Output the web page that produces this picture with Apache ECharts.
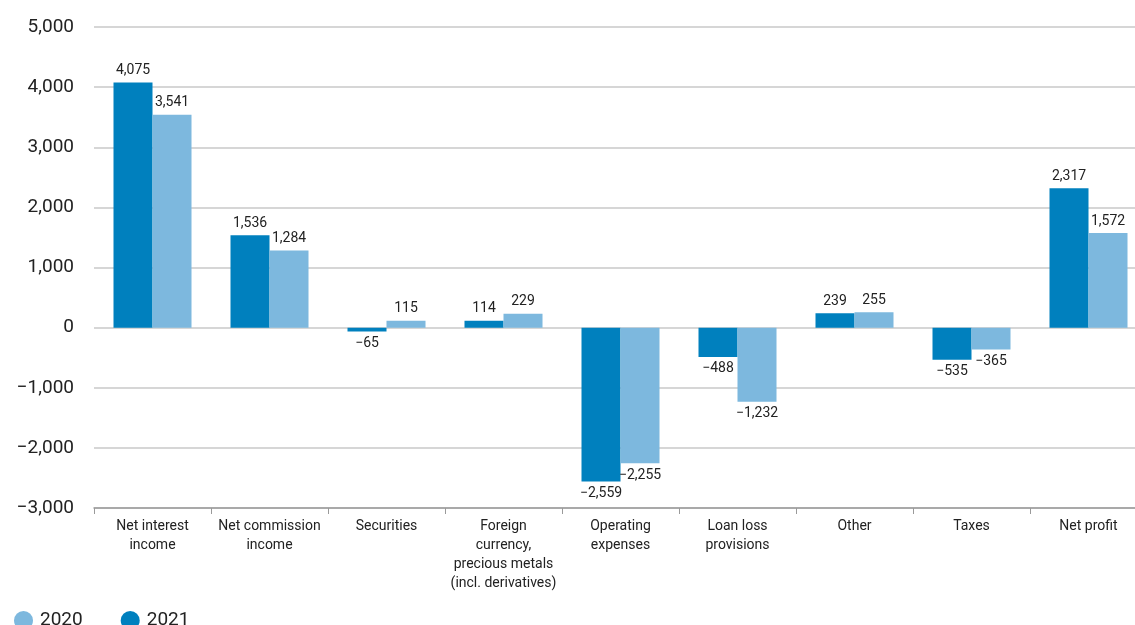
<!DOCTYPE html>
<html>
<head>
<meta charset="utf-8">
<script src="https://cdn.jsdelivr.net/npm/echarts@6/dist/echarts.min.js"></script>
<style>
  html, body { margin: 0; padding: 0; background: #fff; }
  #chart { width: 1135px; height: 625px; }
</style>
</head>
<body>
<div id="chart"></div>
<script>
// Income statement components, by year
const categories = [
  'Net interest\nincome',
  'Net commission\nincome',
  'Securities',
  'Foreign\ncurrency,\nprecious metals\n(incl. derivatives)',
  'Operating\nexpenses',
  'Loan loss\nprovisions',
  'Other',
  'Taxes',
  'Net profit'
];
const values2021 = [4075, 1536, -65, 114, -2559, -488, 239, -535, 2317];
const values2020 = [3541, 1284, 115, 229, -2255, -1232, 255, -365, 1572];
const yTicks = { min: -3000, max: 5000, interval: 1000 };

const FONT = 'Roboto, "Noto Sans", sans-serif';
const TEXT = '#222';

function fmt(v) {
  const s = Math.abs(v).toLocaleString('en-US');
  return v < 0 ? '\u2212' + s : s;
}

function barData(values) {
  return values.map(v => ({
    value: v,
    label: { position: v < 0 ? 'bottom' : 'top' }
  }));
}

const chart = echarts.init(document.getElementById('chart'), null, { renderer: 'canvas' });

chart.setOption({
  animation: false,
  textStyle: { fontFamily: FONT },
  grid: {
    left: 94, right: -12, top: 27, bottom: 117,
    containLabel: false,
    outerBoundsMode: 'none'
  },
  legend: {
    data: ['2020', '2021'],
    left: 9,
    top: 606,
    icon: 'circle',
    itemWidth: 19,
    itemHeight: 19,
    itemGap: 38,
    textStyle: { fontSize: 19, color: TEXT, fontFamily: FONT, padding: [0, 0, 0, 2] }
  },
  xAxis: {
    type: 'category',
    data: categories,
    position: 'bottom',
    axisLine: { onZero: false, lineStyle: { color: '#9a9a9a', width: 1.5 } },
    axisTick: { show: true, alignWithLabel: false, length: 6, lineStyle: { color: '#9a9a9a' } },
    axisLabel: {
      interval: 0,
      margin: 9,
      fontSize: 14,
      lineHeight: 19,
      color: TEXT,
      fontFamily: FONT,
      align: 'center'
    },
    splitLine: { show: false }
  },
  yAxis: {
    type: 'value',
    min: yTicks.min,
    max: yTicks.max,
    interval: yTicks.interval,
    axisLine: { show: false },
    axisTick: { show: false },
    splitLine: { lineStyle: { color: '#c8c8c8', width: 1.5 } },
    axisLabel: {
      formatter: fmt,
      fontSize: 19,
      color: TEXT,
      fontFamily: FONT,
      margin: 20
    }
  },
  series: [
    {
      name: '2021',
      type: 'bar',
      data: barData(values2021),
      barWidth: 39,
      barGap: '0%',
      itemStyle: { color: '#0080be' },
      label: {
        show: true,
        formatter: p => fmt(p.value),
        fontSize: 14,
        color: TEXT,
        fontFamily: FONT,
        distance: 5
      }
    },
    {
      name: '2020',
      type: 'bar',
      data: barData(values2020),
      barWidth: 39,
      barGap: '0%',
      itemStyle: { color: '#7db8de' },
      label: {
        show: true,
        formatter: p => fmt(p.value),
        fontSize: 14,
        color: TEXT,
        fontFamily: FONT,
        distance: 5
      }
    }
  ]
});
</script>
</body>
</html>
